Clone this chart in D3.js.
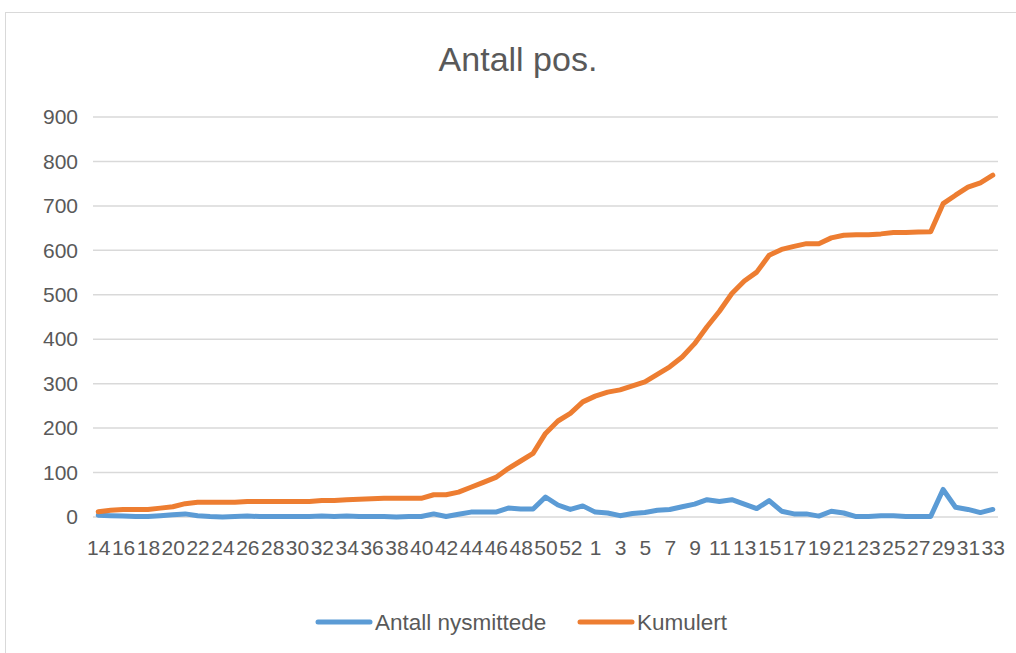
<!DOCTYPE html>
<html lang="no">
<head>
  <meta charset="UTF-8">
  <title>Antall pos.</title>
  <script src="https://cdn.jsdelivr.net/npm/d3@7"></script>
  <style>
    body { margin: 0; background: #fff; }
    text { font-family: "Liberation Sans", Arial, sans-serif; fill: #595959; }
  </style>
</head>
<body>
  <svg width="1016" height="653"></svg>
  <script>
    // uker: 14-53 (2020), så 1-33 (2021)
    var weeks = d3.range(14, 54).concat(d3.range(1, 34))
    var nysmittede = [4, 3, 2, 1, 1, 3, 5, 7, 3, 1, 0, 1, 2, 1, 1, 1, 1, 1, 2, 1,
      2, 1, 1, 1, 0, 1, 1, 7, 1, 6, 11, 11, 11, 20, 18, 18, 45, 27, 17, 25,
      11, 9, 3, 8, 10, 15, 17, 23, 29, 39, 35, 39, 29, 19, 37, 13, 7, 7, 2, 13,
      9, 1, 1, 3, 3, 1, 1, 1, 62, 22, 17, 10, 17]
    var kumulert = [12, 15, 17, 17, 17, 20, 23, 30, 33, 33, 33, 33, 35, 35, 35, 35, 35, 35, 37, 37,
      39, 40, 41, 42, 42, 42, 42, 50, 50, 56, 67, 78, 89, 109, 126, 143, 188, 216, 233, 259,
      272, 281, 286, 295, 304, 321, 338, 360, 390, 428, 463, 503, 531, 551, 589, 602, 609, 615, 615, 628,
      634, 635, 635, 637, 640, 640, 641, 642, 705, 724, 742, 752, 769]
    var yTicks = [0, 100, 200, 300, 400, 500, 600, 700, 800, 900]
    var seriesNames = ['Antall nysmittede', 'Kumulert']
    var colors = ['#5B9BD5', '#ED7D31']

    var svg = d3.select('svg')

    // ramme
    svg.append('rect')
      .attr('x', 5.5).attr('y', 12.5)
      .attr('width', 1030).attr('height', 660)
      .attr('fill', '#fff').attr('stroke', '#D9D9D9')

    svg.append('text')
      .attr('x', 518).attr('y', 71)
      .attr('text-anchor', 'middle')
      .attr('font-size', 34)
      .text('Antall pos.')

    var idx = d3.range(weeks.length)
    var x = d3.scalePoint()
      .domain(idx)
      .range([92, 999])
      .padding(0.5)
    var y = d3.scaleLinear()
      .domain([0, 900])
      .range([517, 117])

    // rutenett
    svg.append('g')
      .selectAll('line')
      .data(yTicks)
      .enter()
      .append('line')
      .attr('x1', 93).attr('x2', 998)
      .attr('y1', d => y(d)).attr('y2', d => y(d))
      .attr('stroke', '#D9D9D9')
      .attr('stroke-width', 1.5)

    var yAxis = svg.append('g')
      .attr('transform', 'translate(78,0)')
      .call(d3.axisLeft(y).tickValues(yTicks).tickSize(0).tickPadding(0))
    yAxis.select('.domain').remove()
    yAxis.selectAll('text')
      .attr('font-size', 21)
      .attr('font-family', null)
      .attr('fill', '#595959')

    var xAxis = svg.append('g')
      .attr('transform', 'translate(0,540)')
      .call(d3.axisBottom(x)
        .tickValues(idx.filter(i => i % 2 === 0))
        .tickFormat(i => weeks[i])
        .tickSize(0).tickPadding(0))
    xAxis.select('.domain').remove()
    xAxis.selectAll('text')
      .attr('font-size', 21)
      .attr('font-family', null)
      .attr('fill', '#595959')
      .attr('dy', '0.71em')

    var line = d3.line()
      .x((d, i) => x(i))
      .y(d => y(d))

    svg.append('g')
      .selectAll('path')
      .data([nysmittede, kumulert])
      .enter()
      .append('path')
      .attr('d', d => line(d))
      .attr('fill', 'none')
      .attr('stroke', (d, i) => colors[i])
      .attr('stroke-width', 5)
      .attr('stroke-linejoin', 'round')
      .attr('stroke-linecap', 'round')

    // tegnforklaring
    var legendX = [318, 580]
    var legend = svg.append('g')
      .selectAll('g')
      .data(seriesNames)
      .enter()
      .append('g')
      .attr('transform', (d, i) => `translate(${legendX[i]},622)`)
    legend.append('line')
      .attr('x1', 0).attr('x2', 52)
      .attr('stroke', (d, i) => colors[i])
      .attr('stroke-width', 5)
      .attr('stroke-linecap', 'round')
    legend.append('text')
      .attr('x', 57).attr('y', 8)
      .attr('font-size', 22.5)
      .text(d => d)
  </script>
</body>
</html>
